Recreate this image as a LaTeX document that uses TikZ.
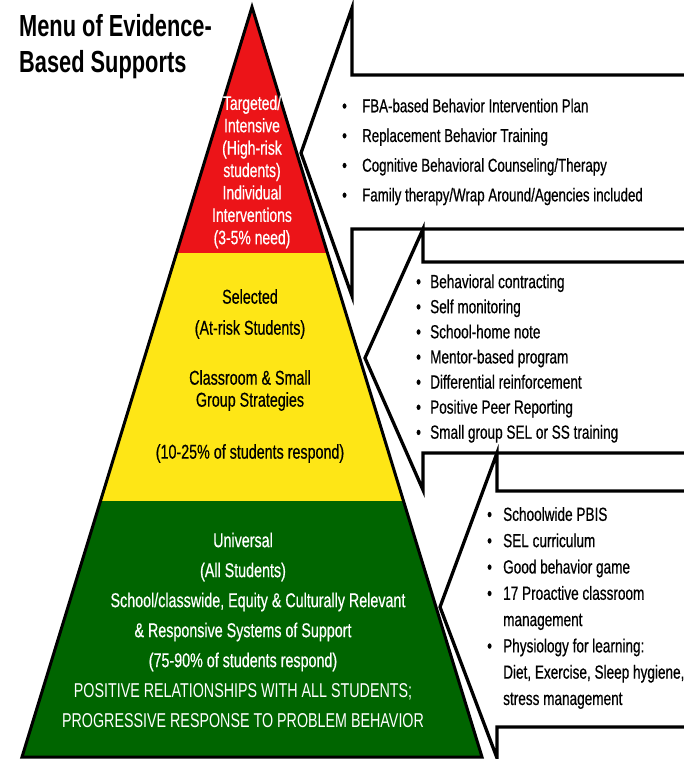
\documentclass[tikz,border=0pt]{standalone}
\usepackage{fontspec}
\setmainfont{Liberation Sans}[FakeStretch=0.715, UprightFeatures={FakeBold=0.5}]
\newfontfamily\lightcaps{Liberation Sans}[FakeStretch=0.715]
\usetikzlibrary{calc}
\definecolor{tierred}{RGB}{236,20,24}
\definecolor{tieryellow}{RGB}{254,230,22}
\definecolor{tiergreen}{RGB}{0,101,0}
\tikzset{
  tiertext/.style={align=center, inner sep=0pt, font=\fontsize{20}{#1}\selectfont},
  supportlist/.style={align=left, anchor=west, inner sep=0pt, font=\fontsize{19}{#1}\selectfont},
  menuarrow/.style={draw=black, fill=white, line width=3.3pt, line join=miter},
}
\newcommand{\bul}{\makebox[\bulwd][l]{\textbullet}}
\def\bulwd{16pt}
\begin{document}
\begin{tikzpicture}[x=1pt, y=-1pt]
\useasboundingbox (0,0) rectangle (684,759);
% pyramid
\coordinate (apex) at (252,7);
\coordinate (bl) at (22,757);
\coordinate (br) at (482,757);
\def\redtop{0.328}
\def\greentop{0.6587}
\fill[tierred] (apex) -- ($(apex)!\redtop!(br)$) -- ($(apex)!\redtop!(bl)$) -- cycle;
\fill[tieryellow] ($(apex)!\redtop!(bl)$) -- ($(apex)!\redtop!(br)$) -- ($(apex)!\greentop!(br)$) -- ($(apex)!\greentop!(bl)$) -- cycle;
\fill[tiergreen] ($(apex)!\greentop!(bl)$) -- ($(apex)!\greentop!(br)$) -- (br) -- (bl) -- cycle;
\draw[line width=3pt, line join=miter] (apex) -- (br) -- (bl) -- cycle;

\node[tiertext=22.4pt, text=white, font=\fontsize{19.5}{22.4}\selectfont] (intensive) at (252,172)
  {Targeted/\\Intensive\\(High-risk\\students)\\Individual\\Interventions\\(3-5\% need)};
\node[tiertext=22pt] (selected) at (250,376)
  {Selected\\[9pt](At-risk Students)\\[28pt]Classroom \& Small\\Group Strategies\\[30pt](10-25\% of students respond)};
\node[tiertext=30pt, text=white] (universal) at (243,630)
  {Universal\\(All Students)\\\hspace*{30pt}School/classwide, Equity \& Culturally Relevant\\
   \& Responsive Systems of Support\\(75-90\% of students respond)\\
   {\lightcaps POSITIVE RELATIONSHIPS WITH ALL STUDENTS;}\\{\lightcaps PROGRESSIVE RESPONSE TO PROBLEM BEHAVIOR}};

% block arrows
\draw[menuarrow] (684,75) -| (352,8) -- (301,153) -- (352,296) |- (684,229);
\draw[menuarrow] (684,262) -| (423,229) -- (365,358) -- (423,490) |- (684,453);
\draw[menuarrow] (684,491) -| (497,453) -- (440,607) -- (497,758) |- (684,727);

\def\bulwd{20pt}
\node[supportlist=29.7pt, font=\fontsize{18.6}{29.7}\selectfont] (intensivelist) at (342,152)
  {\bul FBA-based Behavior Intervention Plan\\\bul Replacement Behavior Training\\
   \bul Cognitive Behavioral Counseling/Therapy\\\bul Family therapy/Wrap Around/Agencies included};
\def\bulwd{14pt}
\node[supportlist=25.1pt] (selectedlist) at (416,358.5)
  {\bul Behavioral contracting\\\bul Self monitoring\\\bul School-home note\\\bul Mentor-based program\\
   \bul Differential reinforcement\\\bul Positive Peer Reporting\\\bul Small group SEL or SS training};
\def\bulwd{16pt}
\node[supportlist=26.3pt] (universallist) at (487,608)
  {\bul Schoolwide PBIS\\\bul SEL curriculum\\\bul Good behavior game\\\bul 17 Proactive classroom\\
   \hspace*{\bulwd}management\\\bul Physiology for learning:\\\hspace*{\bulwd}Diet, Exercise, Sleep hygiene,\\
   \hspace*{\bulwd}stress management};

\node[align=left, anchor=north west, inner sep=0pt, font=\bfseries\fontsize{30.5}{36}\selectfont] (title) at (19,14.5)
  {Menu of Evidence-\\Based Supports};
\end{tikzpicture}
\end{document}
